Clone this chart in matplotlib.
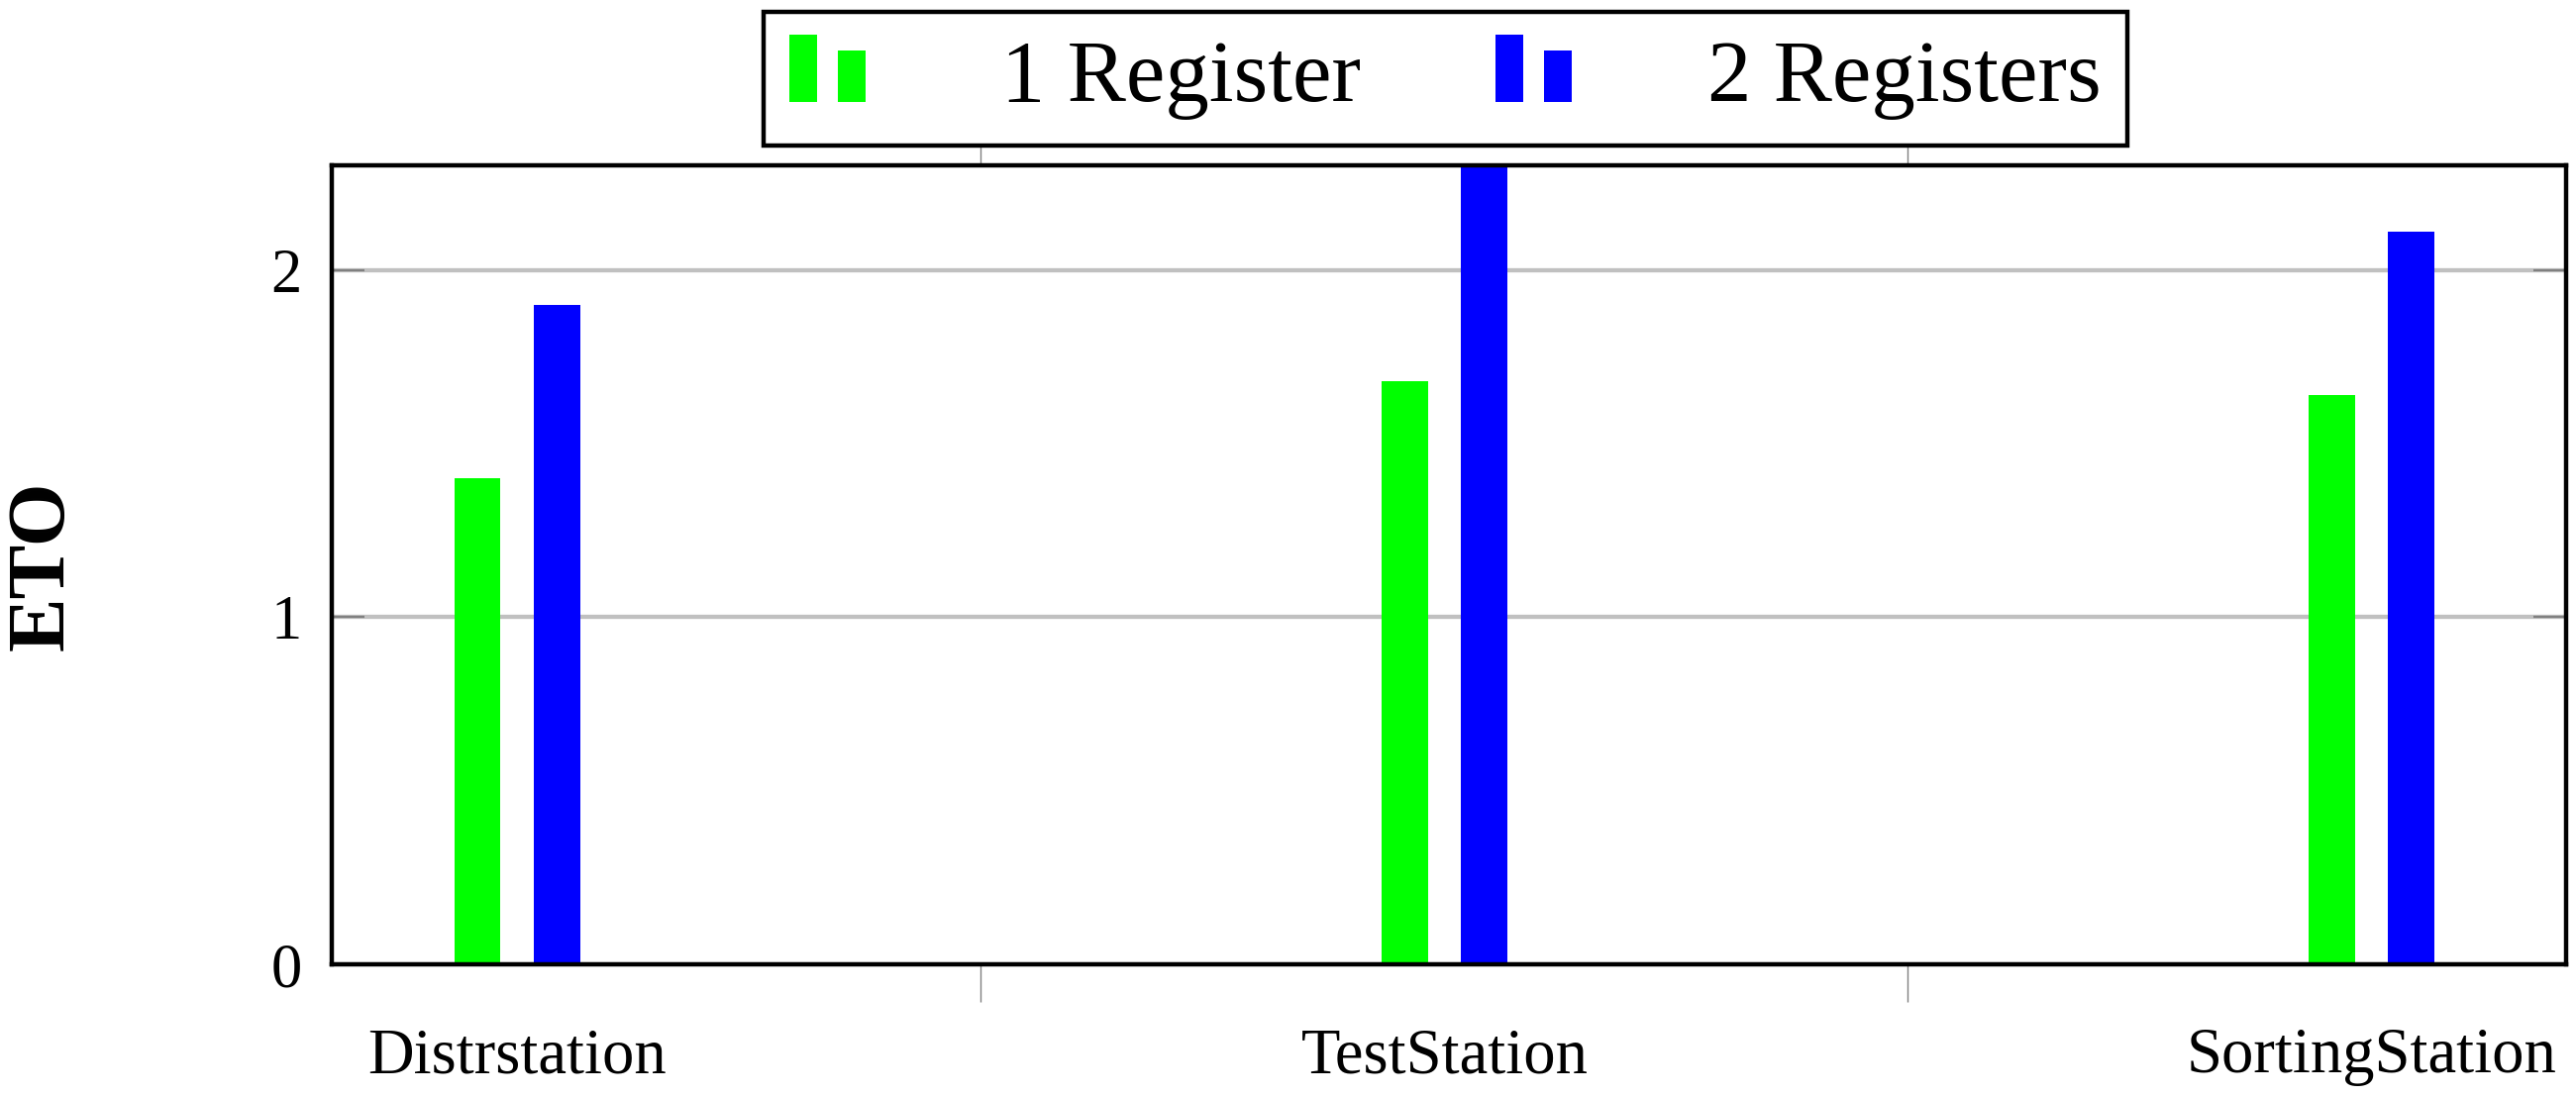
import numpy as np
import matplotlib
matplotlib.use("Agg")
import matplotlib.pyplot as plt
from matplotlib.patches import Rectangle
from matplotlib.legend_handler import HandlerBase

stations = ["Distrstation", "TestStation", "SortingStation"]
one_register = [1.40, 1.68, 1.64]
two_registers = [1.90, 2.34, 2.11]
series_names = ["1 Register", "2 Registers"]
colors = ["#00ff00", "#0000ff"]

plt.rcParams['font.family'] = ['Liberation Serif', 'DejaVu Serif']


class TwoBarHandler(HandlerBase):
    # pgfplots-style ybar legend image: a tall bar and a shorter bar
    def create_artists(self, legend, orig_handle, xdescent, ydescent,
                       width, height, fontsize, trans):
        w = width * 0.36
        gap = width * 0.27
        h = height * 1.03
        y0 = -ydescent + height * 0.02
        c = orig_handle.patches[0].get_facecolor()
        r1 = Rectangle((-xdescent, y0), w, h, facecolor=c, edgecolor='none', transform=trans)
        r2 = Rectangle((-xdescent + w + gap, y0), w, h * 0.76, facecolor=c, edgecolor='none', transform=trans)
        return [r1, r2]


fig = plt.figure(figsize=(26.01, 11.07), dpi=100)
ax = fig.add_axes([0.1288, 0.1201, 0.8674, 0.7286])

x = np.arange(len(stations))
width = 0.05
offset = 0.043
b1 = ax.bar(x - offset, one_register, width, color=colors[0], label=series_names[0], zorder=3)
b2 = ax.bar(x + offset, two_registers, width, color=colors[1], label=series_names[1], zorder=3)

ax.set_xlim(-0.2, 2.21)
ax.set_ylim(0, 2.3)

ax.set_yticks([0, 1, 2])
ax.yaxis.grid(True, color='#c0c0c0', linewidth=3.1, zorder=0)
ax.set_axisbelow(True)
ax.tick_params(axis='y', direction='in', length=24, width=1.6, color='#808080',
               labelsize=45, pad=22, left=True, right=True)

# ticks sit between groups, labels sit under the groups
ax.set_xticks([0.5, 1.5])
ax.set_xticklabels([])
ax.set_xticks(x, minor=True)
ax.set_xticklabels(stations, minor=True)
ax.tick_params(axis='x', which='major', direction='out', length=27, width=1.0,
               color='#808080', top=True, bottom=True)
ax.tick_params(axis='x', which='minor', length=0, labelsize=46.5, pad=46)

for s in ax.spines.values():
    s.set_linewidth(3.2)
    s.set_color('black')
    s.set_zorder(4)

ax.set_ylabel("ETO", fontsize=59, fontweight='bold')
ax.yaxis.set_label_coords(-0.1125, 0.5)

leg = fig.legend(handles=[b1, b2], labels=series_names, ncol=2,
                 loc='upper center', bbox_to_anchor=(0.561, 0.989),
                 fontsize=64, frameon=True, fancybox=False, framealpha=1,
                 borderaxespad=0,
                 handler_map={type(b1): TwoBarHandler()},
                 handlelength=0.88, handleheight=0.78, handletextpad=1.53,
                 columnspacing=1.53, borderpad=0.29)
leg.get_frame().set_edgecolor('black')
leg.get_frame().set_linewidth(3.2)

fig.savefig("out.png", dpi=100)
